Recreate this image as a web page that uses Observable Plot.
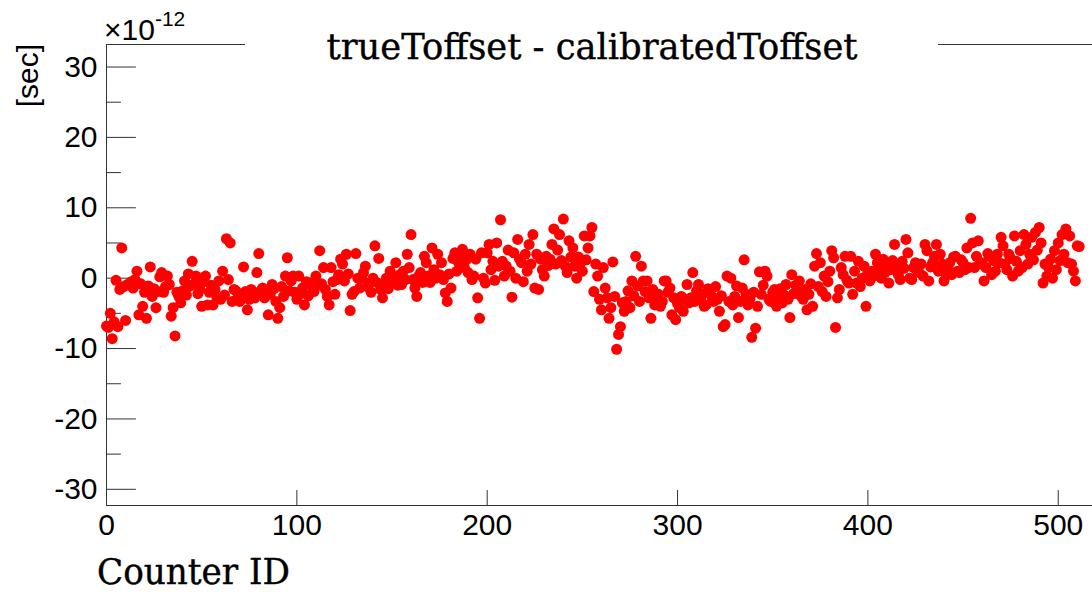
<!DOCTYPE html>
<html>
<head>
<meta charset="utf-8">
<script src="https://cdn.jsdelivr.net/npm/d3@7"></script>
<script src="https://cdn.jsdelivr.net/npm/@observablehq/plot@0.6"></script>
<style>
  html, body { margin: 0; padding: 0; background: #fff; }
  #chart { position: relative; width: 1092px; height: 592px; overflow: hidden; background: #fff; }
  #chart svg { position: absolute; left: 0; top: 0; display: block; }
  .ovl-title { font-family: 'DejaVu Serif', serif; font-size: 35px; fill: #000; }
  .ovl-sans { font-family: 'Liberation Sans', Arial, Helvetica, sans-serif; fill: #000; }
</style>
</head>
<body>
<div id="chart"></div>
<script>
// Time-offset residual (true - calibrated) per counter, in units of 1e-12 s; index = counter ID
const offsetResidual = [
  -6.8, -7.0, -5.0, -8.6, -6.2, -0.3, -6.9, -1.6, 4.3, -1.2,
  -6.0, -0.9, -1.0, -0.5, -1.4, -0.2, 1.0, -5.2, -0.8, -4.0,
  -2.0, -5.7, -1.1, 1.6, -2.6, -1.5, -4.2, -1.9, 0.2, 0.8,
  -2.0, -1.2, 0.3, -0.9, -5.4, -4.2, -8.2, -2.0, -2.6, -3.5,
  -1.8, -0.4, -2.4, 0.6, -1.1, 2.4, -0.8, 0.3, -2.2, -1.6,
  -4.0, -0.5, 0.3, -3.8, -2.0, -1.0, -3.8, -1.6, -2.8, -0.4,
  -3.0, 1.0, -2.4, 5.6, -0.2, 5.0, -3.3, -1.6, -1.8, -2.8,
  -3.3, -2.5, 1.6, -1.9, -4.5, -3.0, -1.6, -2.2, -2.8, 0.8,
  3.5, -1.8, -1.4, -2.8, -2.0, -5.2, -2.3, -0.9, -1.5, -3.3,
  -5.7, -4.2, -1.2, -2.6, 0.3, 2.9, -1.8, -0.4, 0.3, -2.0,
  -3.0, 0.3, -2.2, -1.4, -3.8, -0.5, -2.5, -0.7, -1.2, -1.9,
  0.3, -1.0, 3.9, -0.8, 1.5, -1.6, -2.6, -3.8, 1.5, -0.5,
  -2.3, -0.2, 0.5, 2.7, 2.0, -0.4, 3.4, 0.6, -4.6, -2.3,
  -1.9, 3.5, 0.0, -1.4, 0.0, 0.8, 1.7, -1.2, -0.7, -2.0,
  0.0, 4.6, -0.6, 2.8, -1.6, -2.8, -0.9, 0.0, -1.5, 1.0,
  -0.4, 0.2, 2.2, -1.0, 0.5, -0.9, 1.0, -0.2, 3.4, 1.5,
  6.2, -0.2, -1.4, -2.6, 0.3, 0.8, -0.6, 3.1, 2.2, 0.3,
  -0.6, 4.3, 1.2, 0.0, 3.4, 0.5, 2.2, -0.2, -2.1, -3.3,
  0.6, -1.4, 2.8, 3.6, 1.0, 2.2, 3.0, 4.1, 1.5, 2.6,
  0.8, 3.4, -0.2, 0.3, 2.7, -2.8, -5.7, 3.6, 0.0, -0.7,
  3.6, 4.8, 1.2, 2.4, -0.3, 5.0, 1.7, 8.3, 2.4, 0.3,
  1.7, 4.0, 1.0, -2.7, 3.6, 0.0, 5.5, 2.7, 2.2, -0.5,
  3.4, 1.0, 4.8, 2.0, 6.2, -1.4, 3.4, -1.6, 2.7, 1.2,
  0.3, 3.1, 1.8, 2.7, 4.8, 7.0, 2.0, 4.0, 6.2, 2.5,
  8.4, 1.7, 0.8, 5.3, 3.0, 4.3, 1.7, 0.0, 3.0, 2.2,
  1.0, 6.0, 2.6, 4.3, 6.0, 7.2, -1.9, 2.0, 0.3, -3.0,
  -4.5, 1.5, -1.4, -2.8, -5.7, -4.2, 2.3, -2.6, -10.1, -8.0,
  -6.9, -3.5, -4.7, -3.3, -1.8, -4.2, -0.4, -2.5, 3.1, -1.1,
  -3.3, 1.7, -0.4, -1.9, -0.4, -2.8, -5.7, -1.6, -3.8, -2.6,
  -2.3, -4.0, -3.3, -0.4, -0.4, -2.0, -1.4, -5.2, -2.8, -5.9,
  -3.6, -4.2, -2.6, -4.7, -3.0, -0.9, -3.5, -2.8, 0.8, -3.3,
  -1.8, -0.9, -3.0, -2.3, -4.0, -3.8, -1.5, -2.1, -2.6, -3.3,
  -1.2, -3.0, -4.7, -2.5, -6.9, -6.6, 0.3, -3.3, 0.0, -3.8,
  -2.6, -1.1, -5.6, -3.3, -1.4, 2.6, -2.3, -3.8, -3.0, -8.4,
  -2.0, -7.1, -4.0, 0.9, -2.3, -1.0, 1.0, 0.3, -3.0, -3.3,
  -2.0, -1.6, -4.0, -2.8, -1.5, -3.5, -2.4, -0.9, -3.0, -5.6,
  0.5, -2.2, -1.0, -1.9, -0.4, -2.6, -3.0, -1.6, -4.5, -2.3,
  -0.8, -4.0, 1.7, 3.5, -1.2, 2.2, -1.9, 0.3, -2.6, -0.5,
  1.0, 3.9, 2.9, -7.0, -2.8, -1.6, 1.5, 0.5, 3.1, -0.3,
  -0.7, 3.1, -2.3, 1.0, -0.7, 2.4, -1.2, 0.0, 1.7, -4.0,
  0.8, -0.4, 1.0, 0.3, 3.4, 2.2, 1.2, 0.0, 2.7, 0.8,
  1.8, -0.7, 1.2, 2.5, 4.8, 1.7, 0.5, -0.2, 2.4, 1.4,
  5.5, 3.6, 0.0, -0.2, 1.5, 2.2, 1.0, 0.8, 2.0, 0.3,
  4.8, 3.9, -0.4, 1.6, 2.2, 3.1, 4.8, 1.0, 3.4, 2.0,
  -0.4, 0.6, 1.2, 2.2, 0.5, 3.0, 3.1, 1.0, 0.8, 2.6,
  2.2, 1.2, 4.3, 1.5, 8.5, 5.0, 1.5, 3.1, 5.3, 2.0,
  2.2, -0.4, 1.5, 3.5, 3.1, 0.5, 2.5, 1.0, 3.4, 2.2,
  5.8, 4.6, 2.0, 1.2, 3.4, 2.8, 0.3, 6.0, 2.4, 1.0,
  3.9, 1.5, 6.2, 4.8, 2.0, 3.4, 5.8, 2.6, 6.5, 4.0,
  7.2, 5.0, -0.7, 2.0, 0.3, 1.5, 2.7, 0.0, 3.9, 1.2,
  5.0, 2.5, 6.2, 3.4, 7.0, 2.2, 6.0, 2.0, 1.0, -0.4,
  4.6, 4.5
];

// Axis ranges and ticks
const xDomain = [0, 518];
const yDomain = [-32.3, 33.2];
const xTicks = [0, 100, 200, 300, 400, 500];
const xTickLabels = ["0", "100", "200", "300", "400", "500"];
const yTicks = [-30, -20, -10, 0, 10, 20, 30];
const yTickLabels = ["-30", "-20", "-10", "0", "10", "20", "30"];
const yMinorTicks = [-25, -15, -5, 5, 15, 25];

// Texts
const titleText = "trueToffset - calibratedToffset";
const xTitle = "Counter ID";
const yTitle = "[sec]";
const yExponentBase = "\u00d710";
const yExponent = "-12";

// A straight tick segment drawn along the vector direction
const tickShape = {
  draw(context, l) {
    context.moveTo(0, 0);
    context.lineTo(0, -l);
  }
};

const axisColor = "#333";
const sans = "'Liberation Sans', Arial, Helvetica, sans-serif";

const chart = Plot.plot({
  width: 1092,
  height: 592,
  marginLeft: 106,
  marginRight: 0,
  marginTop: 44,
  marginBottom: 87,
  x: {domain: xDomain, label: null},
  y: {domain: yDomain, label: null},
  style: {background: "transparent", fontFamily: sans, color: "#000"},
  marks: [
    // frame edges: left, bottom, top
    Plot.ruleX([xDomain[0]], {stroke: axisColor, strokeWidth: 1}),
    Plot.ruleY(yDomain, {stroke: axisColor, strokeWidth: 1}),
    // inward ticks
    Plot.vector(yTicks, {y: d => d, frameAnchor: "left", length: 29, rotate: 90, anchor: "start", shape: tickShape, stroke: axisColor, strokeWidth: 1}),
    Plot.vector(yMinorTicks, {y: d => d, frameAnchor: "left", length: 14, rotate: 90, anchor: "start", shape: tickShape, stroke: axisColor, strokeWidth: 1}),
    Plot.vector(xTicks, {x: d => d, frameAnchor: "bottom", length: 15, rotate: 0, anchor: "start", shape: tickShape, stroke: axisColor, strokeWidth: 1}),
    // tick labels
    Plot.axisY(yTicks, {tickSize: 0, tickPadding: 9, fontSize: 30, fill: "#000",
      tickFormat: d => yTickLabels[yTicks.indexOf(d)], label: null}),
    Plot.axisX(xTicks, {tickSize: 0, tickPadding: 8, fontSize: 30, fill: "#000",
      tickFormat: d => xTickLabels[xTicks.indexOf(d)], label: null}),
    // measurements
    Plot.dot(offsetResidual, {x: (d, i) => i, y: d => d, r: 5.5, fill: "#ff0000", stroke: "none"})
  ]
});

const root = document.getElementById("chart");
root.appendChild(chart);

// Titles drawn over the chart
const overlay = d3.create("svg")
  .attr("width", 1092)
  .attr("height", 592)
  .style("pointer-events", "none");

overlay.append("rect")
  .attr("x", 245).attr("y", 20).attr("width", 693).attr("height", 48)
  .attr("fill", "#fff");

overlay.append("text")
  .attr("class", "ovl-title")
  .attr("x", 592).attr("y", 59)
  .attr("text-anchor", "middle")
  .attr("textLength", 531).attr("lengthAdjust", "spacingAndGlyphs")
  .style("stroke", "#000").style("stroke-width", "0.4px")
  .text(titleText);

overlay.append("text")
  .attr("class", "ovl-title")
  .attr("x", 97).attr("y", 584)
  .attr("textLength", 193).attr("lengthAdjust", "spacingAndGlyphs")
  .style("stroke", "#000").style("stroke-width", "0.4px")
  .text(xTitle);

overlay.append("text")
  .attr("class", "ovl-sans")
  .attr("transform", "translate(38,44) rotate(-90)")
  .attr("text-anchor", "end")
  .style("font-size", "30px")
  .text(yTitle);

// axis multiplier: ×10 with a raised exponent
const expo = overlay.append("text")
  .attr("class", "ovl-sans")
  .attr("x", 104).attr("y", 40)
  .style("font-size", "30px");
expo.append("tspan").style("font-size", "30px").text(yExponentBase);
expo.append("tspan").attr("dy", -14).style("font-size", "21px").text(yExponent);

root.appendChild(overlay.node());
</script>
</body>
</html>
